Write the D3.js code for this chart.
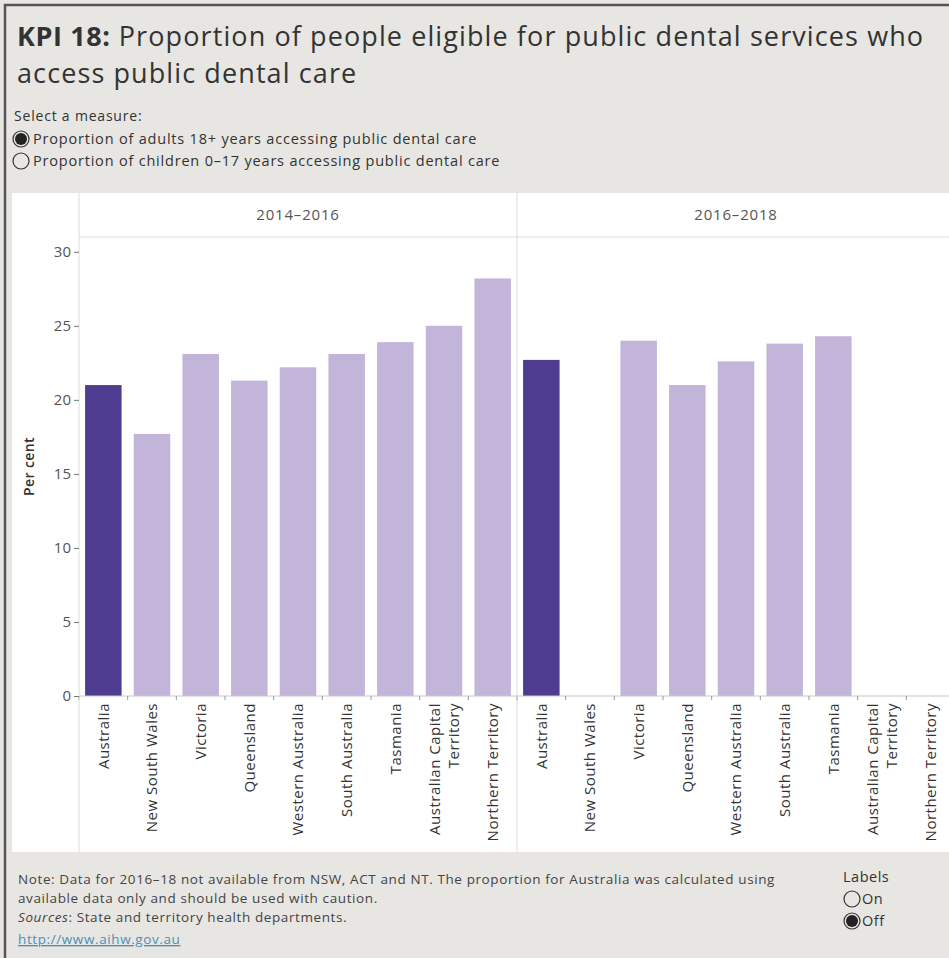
<!DOCTYPE html>
<html>
<head>
<meta charset="utf-8">
<script src="https://cdn.jsdelivr.net/npm/d3@7"></script>
<style>
body { margin: 0; background: #e7e6e2; }
svg { display: block; font-family: "Open Sans", sans-serif; }
</style>
</head>
<body>
<svg id="drawing_region"></svg>
<script>
// data
const periods = ["2014–2016", "2016–2018"];
const states = ["Australia", "New South Wales", "Victoria", "Queensland", "Western Australia",
                "South Australia", "Tasmania", "Australian Capital Territory", "Northern Territory"];
const state_lines = {"Australian Capital Territory": ["Australian Capital", "Territory"]};
const values_2014_2016 = [21.0, 17.7, 23.1, 21.3, 22.2, 23.1, 23.9, 25.0, 28.2];
const values_2016_2018 = [22.7, null, 24.0, 21.0, 22.6, 23.8, 24.3, null, null];
const y_ticks = [0, 5, 10, 15, 20, 25, 30];
const measures = ["Proportion of adults 18+ years accessing public dental care",
                  "Proportion of children 0–17 years accessing public dental care"];
const label_options = ["On", "Off"];

const series = [values_2014_2016, values_2016_2018];
const data = [];
periods.forEach( (p, i) => {
    states.forEach( (s, j) => {
        if (series[i][j] != null) data.push({period: p, state: s, value: series[i][j]});
    });
});

class KpiChart {

    constructor( config, data ) {
        this.config = config;
        this.data = data;
        this.init();
    }

    init() {
        let self = this;
        const c = self.config;

        self.svg = d3.select( c.parent )
            .attr('width', c.width)
            .attr('height', c.height);

        self.svg.append('rect')
            .attr('width', c.width).attr('height', c.height)
            .attr('fill', '#e7e6e2');

        // outer frame (image cropped on the right and bottom)
        self.svg.append('path')
            .attr('d', `M5,${c.height} V5 H${c.width}`)
            .attr('fill', 'none')
            .attr('stroke', '#555')
            .attr('stroke-width', 2.5);

        // title
        const title = self.svg.append('g')
            .attr('fill', '#333')
            .attr('font-size', '27px')
            .attr('letter-spacing', '1.1px');
        const t1 = title.append('text').attr('x', 17).attr('y', 46);
        t1.append('tspan').attr('font-weight', 'bold').attr('letter-spacing', '0.6px').text('KPI 18:');
        t1.append('tspan').text(' Proportion of people eligible for public dental services who');
        title.append('text').attr('x', 17).attr('y', 83).text('access public dental care');

        // measure selector
        self.svg.append('text')
            .attr('x', 14).attr('y', 121)
            .attr('font-size', '14px').attr('letter-spacing', '0.8px').attr('fill', '#333')
            .text('Select a measure:');
        self.radio( self.svg, measures, 21, 139, 22, 0, 33, '14.5px', '0.8px' );

        // white chart area
        self.svg.append('rect')
            .attr('x', c.area.left).attr('y', c.area.top)
            .attr('width', c.width - c.area.left)
            .attr('height', c.area.bottom - c.area.top)
            .attr('fill', '#fff');

        self.chart = self.svg.append('g');

        self.pscale = d3.scaleBand()
            .domain( periods )
            .range( [c.plot.left, c.plot.left + 2 * c.panel_width] );

        self.xscale = d3.scaleBand()
            .domain( states )
            .range( [0, c.panel_width] )
            .paddingInner(0.25)
            .paddingOuter(0.125);

        self.yscale = d3.scaleLinear()
            .domain( [0, 31] )
            .range( [c.plot.bottom, c.plot.top] );

        self.yaxis = d3.axisLeft( self.yscale )
            .tickValues( y_ticks )
            .tickSize(5)
            .tickPadding(3);

        // footer
        const foot = self.svg.append('g')
            .attr('font-size', '13.5px')
            .attr('letter-spacing', '0.6px')
            .attr('fill', '#444');
        foot.append('text').attr('x', 18).attr('y', 884)
            .text('Note: Data for 2016–18 not available from NSW, ACT and NT. The proportion for Australia was calculated using');
        foot.append('text').attr('x', 18).attr('y', 903)
            .text('available data only and should be used with caution.');
        const src = foot.append('text').attr('x', 18).attr('y', 922);
        src.append('tspan').attr('font-style', 'italic').text('Sources');
        src.append('tspan').text(': State and territory health departments.');
        foot.append('text').attr('x', 18).attr('y', 944)
            .attr('fill', '#4a90b8')
            .attr('text-decoration', 'underline')
            .text('http://www.aihw.gov.au');

        // labels toggle
        self.svg.append('text')
            .attr('x', 843).attr('y', 882)
            .attr('font-size', '14.5px').attr('letter-spacing', '0.5px').attr('fill', '#333')
            .text('Labels');
        self.radio( self.svg, label_options, 852, 899, 22, 1, 862, '14.5px', '0.5px' );
    }

    radio( parent, items, cx, cy, step, selected, tx, size, spacing ) {
        const g = parent.append('g');
        items.forEach( (d, i) => {
            g.append('circle')
                .attr('cx', cx).attr('cy', cy + i * step).attr('r', 8)
                .attr('fill', 'none').attr('stroke', '#333').attr('stroke-width', 1.2);
            if (i === selected) {
                g.append('circle')
                    .attr('cx', cx).attr('cy', cy + i * step).attr('r', 6)
                    .attr('fill', '#222');
            }
            g.append('text')
                .attr('x', tx).attr('y', cy + i * step + 5)
                .attr('font-size', size).attr('letter-spacing', spacing).attr('fill', '#333')
                .text(d);
        });
    }

    update() {
        this.render();
    }

    render() {
        let self = this;
        const c = self.config;
        const step = self.xscale.step();
        const gap = step - self.xscale.bandwidth();

        // header row text
        self.chart.selectAll('.header')
            .data(periods)
            .join('text')
            .attr('class', 'header')
            .attr('x', d => self.pscale(d) + c.panel_width / 2)
            .attr('y', (c.area.top + c.plot.top) / 2)
            .attr('dy', '0.35em')
            .attr('text-anchor', 'middle')
            .attr('font-size', '15px')
            .attr('letter-spacing', '0.8px')
            .attr('fill', '#555')
            .text(d => d);

        // bars
        self.chart.selectAll('.bar')
            .data(self.data)
            .join('rect')
            .attr('class', 'bar')
            .attr('x', d => self.pscale(d.period) + self.xscale(d.state))
            .attr('y', d => self.yscale(d.value))
            .attr('width', self.xscale.bandwidth())
            .attr('height', d => self.yscale(0) - self.yscale(d.value))
            .attr('fill', d => d.state === 'Australia' ? '#4e3c91' : '#c3b5da');

        // x axis line, ticks and category labels per panel
        periods.forEach( p => {
            const x0 = self.pscale(p);
            const g = self.chart.append('g').attr('transform', `translate(${x0},0)`);
            g.append('line')
                .attr('x1', 0).attr('x2', c.panel_width)
                .attr('y1', self.yscale(0)).attr('y2', self.yscale(0))
                .attr('stroke', '#c8c8c8');
            const bounds = states.map(s => self.xscale(s) - gap / 2).concat([c.panel_width]);
            g.selectAll('.xtick')
                .data(bounds)
                .join('line')
                .attr('x1', d => d).attr('x2', d => d)
                .attr('y1', self.yscale(0)).attr('y2', self.yscale(0) + 4)
                .attr('stroke', '#999');
            const lab = g.selectAll('.xlab')
                .data(states)
                .join('text')
                .attr('transform', d => `translate(${self.xscale(d) + self.xscale.bandwidth() / 2},${self.yscale(0) + 7}) rotate(-90)`)
                .attr('text-anchor', 'end')
                .attr('font-size', '15px')
                .attr('letter-spacing', '0.5px')
                .attr('fill', '#333');
            lab.each( function(d) {
                const lines = state_lines[d] || [d];
                const t = d3.select(this);
                lines.forEach( (l, k) => {
                    t.append('tspan')
                        .attr('x', 0)
                        .attr('y', (k - (lines.length - 1) / 2) * 19)
                        .attr('dy', '0.35em')
                        .text(l);
                });
            });
        });

        // panel borders
        const borders = self.chart.append('g').attr('stroke', '#dcdcdc').attr('fill', 'none');
        borders.selectAll('.vline')
            .data(periods)
            .join('line')
            .attr('x1', d => self.pscale(d)).attr('x2', d => self.pscale(d))
            .attr('y1', c.area.top).attr('y2', c.area.bottom);
        borders.append('line')
            .attr('x1', c.plot.left).attr('x2', c.width)
            .attr('y1', c.plot.top).attr('y2', c.plot.top);

        // y axis
        const ya = self.chart.append('g')
            .attr('transform', `translate(${c.plot.left},0)`)
            .call( self.yaxis );
        ya.select('.domain').remove();
        ya.selectAll('line').attr('stroke', '#777');
        ya.selectAll('text').attr('font-size', '15px').attr('fill', '#555')
            .attr('font-family', '"Open Sans", sans-serif');

        self.chart.append('text')
            .attr('transform', `translate(34,${(c.plot.top + c.plot.bottom) / 2}) rotate(-90)`)
            .attr('text-anchor', 'middle')
            .attr('font-size', '14px')
            .attr('letter-spacing', '0.4px')
            .attr('font-weight', 600)
            .attr('fill', '#333')
            .text('Per cent');
    }
}

const config = {
    parent: '#drawing_region',
    width: 949,
    height: 958,
    area: {left: 12, top: 193, bottom: 852},
    plot: {left: 79, top: 237, bottom: 696},
    panel_width: 438
};

const chart = new KpiChart( config, data );
chart.update();
</script>
</body>
</html>
